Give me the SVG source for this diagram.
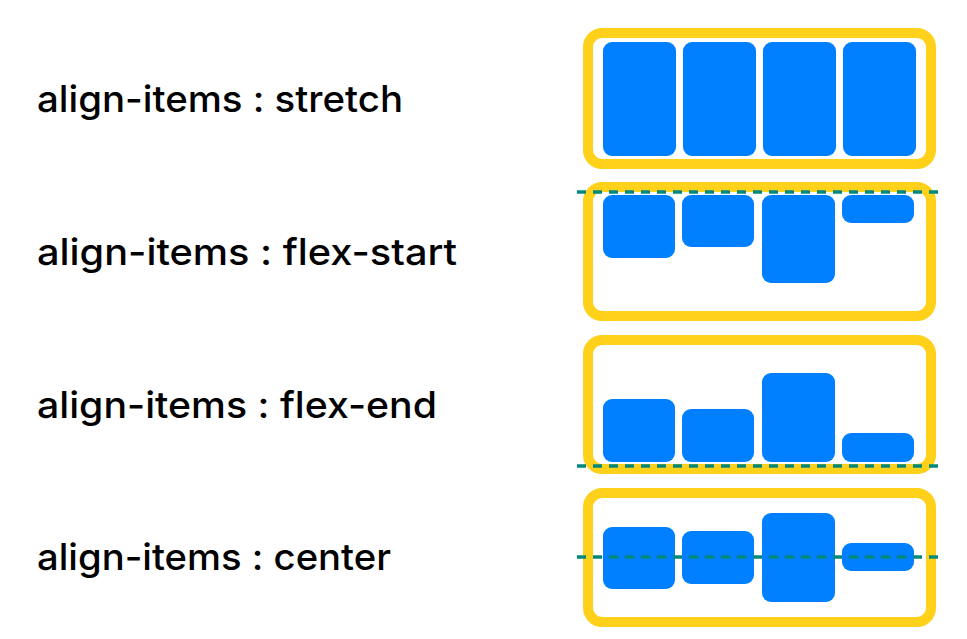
<svg xmlns="http://www.w3.org/2000/svg" width="967" height="639" viewBox="0 0 967 639">
<style>
.lbl{font-family:Inter,"Liberation Sans",sans-serif;font-size:37px;font-weight:500;fill:#000}
.frame{fill:#fff;stroke:#FFD11A;stroke-width:10}
.item{fill:#0080FF}
.guide{stroke:#00897B;stroke-width:3.5;stroke-dasharray:9 7;fill:none}
</style>
<rect width="967" height="639" fill="#fff"/>
<g id="stretch">
<text class="lbl" x="37" y="112" textLength="366" lengthAdjust="spacingAndGlyphs">align-items : stretch</text>
<rect class="frame" x="588" y="33" width="343" height="131" rx="14"/>
<rect class="item" x="603" y="42" width="73" height="114" rx="9"/>
<rect class="item" x="683" y="42" width="73" height="114" rx="9"/>
<rect class="item" x="763" y="42" width="73" height="114" rx="9"/>
<rect class="item" x="843" y="42" width="73" height="114" rx="9"/>
</g>
<g id="flex-start">
<text class="lbl" x="37" y="265" textLength="420" lengthAdjust="spacingAndGlyphs">align-items : flex-start</text>
<rect class="frame" x="588" y="187" width="343" height="129" rx="14"/>
<rect class="item" x="603" y="195" width="72" height="63" rx="9"/>
<rect class="item" x="682" y="195" width="72" height="52" rx="9"/>
<rect class="item" x="762" y="195" width="73" height="88" rx="9"/>
<rect class="item" x="842" y="195" width="72" height="28" rx="9"/>
</g>
<g id="flex-end">
<text class="lbl" x="37" y="418" textLength="400" lengthAdjust="spacingAndGlyphs">align-items : flex-end</text>
<rect class="frame" x="588" y="340" width="343" height="129" rx="14"/>
<rect class="item" x="603" y="399" width="72" height="63" rx="9"/>
<rect class="item" x="682" y="409" width="72" height="53" rx="9"/>
<rect class="item" x="762" y="373" width="73" height="89" rx="9"/>
<rect class="item" x="842" y="433" width="72" height="29" rx="9"/>
</g>
<g id="center">
<text class="lbl" x="37" y="570" textLength="354" lengthAdjust="spacingAndGlyphs">align-items : center</text>
<rect class="frame" x="588" y="493" width="343" height="129" rx="14"/>
<rect class="item" x="603" y="527" width="72" height="62" rx="9"/>
<rect class="item" x="682" y="531" width="72" height="53" rx="9"/>
<rect class="item" x="762" y="513" width="73" height="89" rx="9"/>
<rect class="item" x="842" y="543" width="72" height="28" rx="9"/>
</g>
<g id="connectors">
<line class="guide" x1="577" y1="192" x2="941" y2="192"/>
<line class="guide" x1="577" y1="466" x2="941" y2="466"/>
<line class="guide" x1="577" y1="557" x2="941" y2="557"/>
</g>
</svg>
